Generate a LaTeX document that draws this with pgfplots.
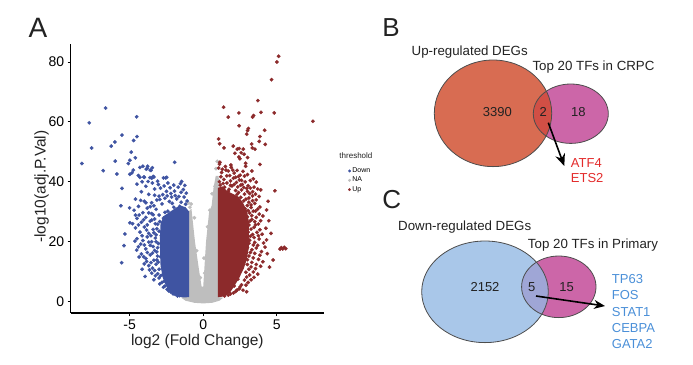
\documentclass[border=0pt]{standalone}
\usepackage{pgfplots}
\pgfplotsset{compat=1.18}
\usepackage{fontspec}
\setmainfont{Liberation Sans}
\usetikzlibrary{arrows.meta}
\definecolor{dblue}{HTML}{3F54A2}
\definecolor{dred}{HTML}{8C2A2B}
\definecolor{ngray}{HTML}{BEBEBE}
\definecolor{vorange}{HTML}{D86C52}
\definecolor{vmag}{HTML}{CC66A8}
\definecolor{vint1}{HTML}{D14F45}
\definecolor{vblue}{HTML}{A9C7E9}
\definecolor{vint2}{HTML}{9FA6D6}
\definecolor{vline}{HTML}{4D4D4D}
\definecolor{tred}{HTML}{E32B2B}
\definecolor{tblue}{HTML}{4A8FD8}
\definecolor{txt}{HTML}{222222}
\pgfplotsset{
  dots/.style={only marks, mark=*, mark size=1.75pt, mark options={solid, line width=0.3pt}},
  area/.style={no marks, draw=none},
}
\begin{document}
\begin{tikzpicture}
\useasboundingbox (0pt,0pt) rectangle (693pt,-364pt);
% ---------------- volcano plot ----------------
\begin{axis}[
  at={(70.7pt,-313pt)}, anchor=south west, scale only axis,
  width=253.3pt, height=269pt,
  xmin=-9, xmax=8.2, ymin=-3.8, ymax=86,
  axis x line*=bottom, axis y line*=left,
  axis line style={line width=1.4pt,-},
  xtick={-5,0,5}, xticklabels={-5,0,5},
  ytick={0,20,40,60,80}, yticklabels={0,20,40,60,80},
  tick align=outside, major tick length=3pt,
  tick style={line width=0.8pt,black},
  ticklabel style={font=\fontsize{14}{16}\selectfont, text=black},
  xlabel={log2 (Fold Change)}, ylabel={-log10(adj.P.Val)},
  label style={font=\fontsize{15.5}{17}\selectfont, text=txt},
  xlabel style={at={(axis description cs:0.5,-0.107)}, anchor=center},
  ylabel style={at={(axis description cs:-0.1145,0.47)}, anchor=center},
  clip=false,
  legend style={at={(axis description cs:1.095,0.546)}, anchor=north west,
    draw=none, fill=none, inner sep=0pt, font=\fontsize{7}{8}\selectfont,
    nodes={inner sep=1.5pt}, legend cell align=left},
  legend image post style={mark size=1.3pt},
]
\addlegendimage{dots, color=dblue}
\addlegendentry{Down}
\addlegendimage{dots, color=ngray}
\addlegendentry{NA}
\addlegendimage{dots, color=dred}
\addlegendentry{Up}
% gray (NA) dense area
\addplot[forget plot, area, fill=ngray] coordinates {
(-1.5,1.3) (-1.0,2) (-1.0,30) (-0.8,31) (-0.56,20) (-0.3,11) (-0.11,5) (0.0,5)
(0.19,20) (0.4,30) (0.57,32) (0.7,38) (0.85,42) (1.05,42) (1.05,1.5)
(1.35,1.3) (1.1,0.3) (0.6,-0.4) (0,-0.6) (-0.6,-0.4) (-1.2,0.3) (-1.5,1.3)};
\addplot[forget plot, dots, color=ngray] coordinates {
(1.02,40.6) (0.87,44.4) (0.95,46.8) (0.8,38.5) (0.6,36.0) (0.45,30.5) (0.3,25.0)
(-0.9,31.5) (-0.82,32.6) (-0.6,28.0) (-1.0,33.0) (-0.45,17.0) (-0.2,8.0) (0.1,9.5) (0.05,14.5)};
% blue dense area
\addplot[forget plot, area, fill=dblue] coordinates {
(-0.95,1.5) (-0.95,30) (-1.2,31.5) (-1.5,32) (-1.8,31.5) (-2.1,30.5) (-2.4,29.5) (-2.7,28.5)
(-2.9,26) (-2.95,20) (-2.9,12) (-2.75,8) (-2.5,5) (-2.2,3) (-1.8,2) (-1.4,1.4) (-0.95,1.5)};
\addplot[forget plot, dots, color=dblue] coordinates {
(-6.63,64.6) (-7.74,59.7) (-4.52,61.7) (-7.58,51.3) (-5.52,55.6) (-6.0,53.3) (-6.25,51.9)
(-4.5,55.1) (-4.73,53.8) (-4.89,49.9) (-8.24,46.1) (-5.98,46.9) (-5.09,46.1) (-4.98,47.2)
(-4.61,48.0) (-6.79,43.7) (-5.86,42.6) (-4.75,43.9) (-4.84,43.0) (-4.98,42.5) (-3.78,45.2)
(-3.46,44.7) (-3.87,44.2) (-3.55,43.8) (-1.94,46.5) (-2.48,41.5) (-2.55,41.3) (-4.30,41.5)
(-4.03,41.6) (-3.62,41.4) (-3.5,41.2) (-3.35,41.6) (-1.47,40.1) (-5.52,37.8) (-5.59,32.0)
(-5.0,31.3) (-4.98,26.3) (-5.32,22.6) (-5.38,18.7) (-5.54,13.0) (-4.64,20.2) (-4.52,17.2)
(-4.3,44.8) (-4.1,45.2) (-3.8,44.5) (-3.6,43.9) (-4.4,42.1) (-4.0,41.5) (-3.4,41.8)
(-3.1,40.2) (-2.7,41.3) (-2.4,39.6) (-2.0,38.9) (-1.7,38.2) (-4.5,39.2) (-3.9,38.5)
(-3.3,37.6) (-2.9,37.9) (-2.5,36.8) (-2.2,36.1) (-1.9,35.4) (-1.5,36.5) (-1.3,34.9)
(-4.2,36.7) (-3.7,35.8) (-3.0,35.2) (-2.6,34.5) (-1.1,33.6) (-4.6,34.2) (-4.0,33.5)
(-3.5,33.0) (-2.8,32.6) (-2.3,33.4) (-1.8,34.3)
(-4.7,30.5) (-4.4,31.8) (-4.1,29.7) (-3.8,31.2) (-3.5,29.4) (-3.2,30.8) (-3.0,28.9)
(-4.5,27.8) (-4.2,26.5) (-3.9,28.1) (-3.6,26.9) (-3.3,27.6) (-3.1,25.8) (-2.95,26.7)
(-4.6,24.6) (-4.3,23.2) (-4.0,24.9) (-3.7,22.8) (-3.4,24.1) (-3.2,22.3) (-3.0,23.5)
(-4.5,21.0) (-4.1,20.4) (-3.8,21.6) (-3.5,20.0) (-3.25,21.2) (-3.05,19.4) (-4.4,18.3)
(-3.9,17.6) (-3.6,18.8) (-3.3,17.1) (-3.1,18.0)
(-4.2,15.9) (-3.9,14.4) (-3.6,15.6) (-3.35,13.8) (-3.1,15.2) (-4.0,12.6) (-3.7,12.0)
(-3.45,11.2) (-3.2,12.5) (-3.0,10.8) (-3.5,9.5) (-3.25,8.6) (-3.0,7.9) (-2.8,6.4)
(-2.6,5.2) (-2.75,9.0) (-2.45,4.1) (-2.2,3.2) (-1.9,2.4)
(-2.0,31.5) (-1.6,31.8) (-1.3,30.9) (-2.4,30.2) (-2.7,27.9) (-2.85,22) (-2.9,15) (-1.2,32.5)
(-1.5,33.2) (-2.1,32.8) (-2.6,29.8) (-3.05,13.2) (-2.65,6.8)
(-3.3,35.5) (-3.15,33.9) (-2.95,34.1) (-2.75,35.7) (-2.45,35.3) (-2.15,34.9) (-1.95,36.9)
(-1.65,35.1) (-1.35,37.4) (-1.15,36.2) (-1.25,38.8) (-1.55,39.4) (-2.25,38.0) (-2.65,38.6)
(-3.05,39.1) (-3.45,39.6) (-3.75,40.1) (-4.15,40.0) (-3.35,32.0) (-3.6,31.7) (-3.9,33.0)
(-4.25,33.8) (-3.4,29.0) (-3.7,29.6) (-3.25,26.0) (-3.5,27.2) (-3.8,25.6) (-4.35,28.9)
(-4.05,27.3) (-3.15,24.3) (-3.35,23.0) (-3.55,22.0) (-3.85,23.9) (-4.15,22.0) (-4.4,25.6)
(-3.2,20.0) (-3.4,18.4) (-3.7,19.9) (-4.0,18.9) (-4.25,19.2) (-3.15,16.6) (-3.45,16.2)
(-3.8,16.4) (-4.05,15.0) (-3.15,13.9) (-3.55,13.0) (-3.85,13.4) (-3.3,10.4) (-3.65,10.6)
(-3.1,9.3) (-2.9,8.6) (-3.35,7.3) (-2.95,5.9) (-2.7,4.8) (-2.35,3.6) (-2.05,2.6) (-1.75,1.9)
(-1.6,2.0) (-4.6,28.9) (-4.8,26.0) (-4.35,14.9) (-4.15,10.8) (-3.95,8.4)};
% red dense area
\addplot[forget plot, area, fill=dred] coordinates {
(1.0,1.5) (1.0,38) (1.3,38.5) (1.6,37) (2.0,36) (2.4,35) (2.7,33) (3.0,30) (3.1,25)
(3.1,18) (2.95,14) (2.75,11) (2.45,8) (2.15,5.5) (1.8,2.9) (1.4,1.7) (1.0,1.5)};
\addplot[forget plot, dots, color=dred] coordinates {
(5.12,81.9) (5.0,80.0) (4.64,74.1) (3.71,67.1) (1.38,64.9) (2.42,63.0) (1.70,61.6)
(3.92,63.2) (4.82,63.0) (3.35,61.6) (3.42,62.1) (7.45,60.2) (2.44,58.7) (3.06,57.8)
(3.01,57.1) (2.95,55.9) (4.17,57.2) (3.85,55.1) (3.80,53.5) (1.04,54.3) (1.11,52.7)
(1.41,51.3) (4.21,52.5) (2.04,51.9) (2.31,50.9) (2.44,51.1) (2.72,50.9) (2.58,49.7)
(2.15,49.5) (3.29,52.6) (3.33,51.3) (3.51,50.9) (2.42,48.3) (2.49,47.7) (2.78,49.2)
(3.01,48.1) (1.13,46.5) (1.88,45.6) (2.88,46.2) (2.88,45.2) (3.85,45.8)
(4.87,37.0) (4.30,30.6) (4.30,20.6) (5.21,17.5) (5.3,18.0) (5.4,17.6) (5.5,18.1) (5.6,17.7)
(4.75,13.9) (2.95,3.3)
(1.1,45.9) (1.3,44.2) (1.5,45.1) (1.7,43.6) (1.9,44.8) (2.1,42.9) (2.3,43.8) (2.5,42.2)
(2.7,43.5) (1.2,41.7) (1.4,40.8) (1.6,42.0) (1.85,40.3) (2.05,41.2) (2.25,39.8) (2.45,40.6)
(2.65,39.1) (2.85,40.0) (3.05,38.7) (1.15,38.9) (1.45,38.2) (1.75,37.5) (1.95,38.6)
(2.2,37.1) (2.4,36.4) (2.6,37.3) (2.8,35.9) (3.0,36.8) (3.2,37.9) (3.45,38.2) (3.7,37.6)
(3.9,37.3) (1.3,36.0) (2.0,35.2) (2.75,33.6) (3.1,34.6) (3.35,35.3)
(3.0,32.1) (3.25,31.4) (3.5,32.8) (3.15,29.6) (3.4,30.2) (3.7,30.9) (3.0,28.3) (3.3,27.4)
(3.6,28.1) (3.9,27.0) (3.1,25.6) (3.45,24.8) (3.75,25.9) (3.05,23.2) (3.35,22.4) (3.65,23.1)
(4.0,22.5) (3.15,20.5) (3.5,19.8) (3.8,20.9) (4.1,19.6) (3.0,18.1) (3.3,17.3) (3.6,17.9)
(3.95,16.7) (3.1,15.2) (3.4,14.6) (3.75,14.1) (4.05,13.3) (3.0,12.4) (3.25,11.6) (3.55,11.0)
(2.9,9.8) (3.15,8.9) (3.45,8.1) (2.8,7.2) (3.05,6.4) (2.6,5.6) (2.45,4.3) (2.2,3.4) (2.7,3.8)
(1.85,2.6) (2.95,27.5) (2.85,31.0) (2.5,33.2) (2.2,34.4) (1.6,35.5) (2.75,14.5) (2.6,11.0)
(2.35,7.5) (2.1,5.2)
(1.05,44.6) (1.25,43.1) (1.55,43.9) (1.8,42.1) (2.0,43.9) (2.2,41.5) (2.4,41.8) (2.6,40.5)
(2.8,41.9) (3.0,42.4) (3.2,40.4) (3.4,41.0) (3.6,39.9) (3.3,43.6) (1.1,40.0) (1.35,39.4)
(1.6,39.6) (1.85,38.8) (2.1,39.1) (2.35,38.3) (2.55,38.9) (2.75,38.1) (2.95,37.8) (3.15,36.1)
(3.35,36.7) (3.55,35.9) (3.8,35.1) (1.7,36.8) (2.3,35.8) (2.55,34.8) (2.9,34.2)
(3.1,33.2) (3.35,33.7) (3.6,34.0) (3.25,32.3) (3.55,30.2) (3.85,31.6) (3.05,30.4) (3.3,28.7)
(3.5,26.7) (3.8,29.2) (4.05,28.6) (3.2,27.0) (3.05,26.5) (3.25,24.2) (3.55,25.6) (3.85,24.0)
(3.2,21.8) (3.45,21.4) (3.75,22.0) (3.1,19.5) (3.4,18.9) (3.7,18.8) (4.2,18.2) (3.2,16.4)
(3.5,16.1) (3.85,15.5) (3.0,14.0) (3.3,13.1) (3.6,12.4) (3.9,11.8) (3.1,10.8) (3.4,9.9)
(3.7,9.2) (2.95,8.2) (3.25,7.3) (2.9,5.5) (2.5,4.9) (2.3,3.9) (2.05,2.9) (1.7,2.2) (1.45,1.9)
(4.45,27.0) (4.6,22.8) (4.35,16.0) (4.5,11.5) (4.25,24.5) (4.4,33.5)};
\node[anchor=west, font=\fontsize{8}{9}\selectfont, text=txt, inner sep=0pt]
  at (axis description cs:1.0604,0.5848) {threshold};
\end{axis}
% ---------------- Venn diagrams (overlay axis in pixel units) ----------------
\begin{axis}[at={(0pt,0pt)}, anchor=north west, scale only axis,
  width=693pt, height=364pt, xmin=0, xmax=693, ymin=0, ymax=364,
  y dir=reverse, hide axis, clip=false]
\node[font=\fontsize{28}{30}\selectfont, text=txt] at (axis cs:38,28) {A};
\node[font=\fontsize{26}{28}\selectfont, text=txt] at (axis cs:391,27.5) {B};
\node[font=\fontsize{26}{28}\selectfont, text=txt] at (axis cs:391.7,200) {C};
% B
\fill[vmag] (axis cs:570.8,113.7) ellipse [x radius=37.5pt, y radius=29.7pt];
\fill[vorange] (axis cs:493,113.3) ellipse [x radius=58.7pt, y radius=53.3pt];
\begin{scope}
\clip (axis cs:493,113.3) ellipse [x radius=58.7pt, y radius=53.3pt];
\fill[vint1] (axis cs:570.8,113.7) ellipse [x radius=37.5pt, y radius=29.7pt];
\end{scope}
\draw[vline, line width=0.8pt] (axis cs:493,113.3) ellipse [x radius=58.7pt, y radius=53.3pt];
\draw[vline, line width=0.8pt] (axis cs:570.8,113.7) ellipse [x radius=37.5pt, y radius=29.7pt];
\node[font=\fontsize{13.3}{15}\selectfont, text=txt] at (axis cs:469.7,51.7) {Up-regulated DEGs};
\node[font=\fontsize{13.3}{15}\selectfont, text=txt] at (axis cs:593.5,66.7) {Top 20 TFs in CRPC};
\node[font=\fontsize{13}{15}\selectfont, text=txt] at (axis cs:497.3,111.7) {3390};
\node[font=\fontsize{13}{15}\selectfont, text=txt] at (axis cs:543.3,111.7) {2};
\node[font=\fontsize{13}{15}\selectfont, text=txt] at (axis cs:578.3,111.7) {18};
\draw[line width=1.6pt, -{Stealth[length=12pt,width=10pt]}] (axis cs:548.3,122.7) -- (axis cs:564.3,166);
\node[anchor=west, inner sep=0pt, font=\fontsize{13}{15}\selectfont, text=tred] at (axis cs:570.7,163.3) {ATF4};
\node[anchor=west, inner sep=0pt, font=\fontsize{13}{15}\selectfont, text=tred] at (axis cs:570.7,178.3) {ETS2};
% C
\fill[vmag] (axis cs:558.8,286.8) ellipse [x radius=37.2pt, y radius=30.8pt];
\fill[vblue] (axis cs:485,291.8) ellipse [x radius=63.3pt, y radius=50.8pt];
\begin{scope}
\clip (axis cs:485,291.8) ellipse [x radius=63.3pt, y radius=50.8pt];
\fill[vint2] (axis cs:558.8,286.8) ellipse [x radius=37.2pt, y radius=30.8pt];
\end{scope}
\draw[vline, line width=0.8pt] (axis cs:485,291.8) ellipse [x radius=63.3pt, y radius=50.8pt];
\draw[vline, line width=0.8pt] (axis cs:558.8,286.8) ellipse [x radius=37.2pt, y radius=30.8pt];
\node[font=\fontsize{13.3}{15}\selectfont, text=txt] at (axis cs:464.7,227.3) {Down-regulated DEGs};
\node[font=\fontsize{13.3}{15}\selectfont, text=txt] at (axis cs:593,245) {Top 20 TFs in Primary};
\node[font=\fontsize{13}{15}\selectfont, text=txt] at (axis cs:485,287.3) {2152};
\node[font=\fontsize{13}{15}\selectfont, text=txt] at (axis cs:531.7,287.3) {5};
\node[font=\fontsize{13}{15}\selectfont, text=txt] at (axis cs:566.7,287.3) {15};
\draw[line width=1.6pt, -{Stealth[length=11pt,width=9pt]}] (axis cs:536,296) -- (axis cs:605,306);
\node[anchor=west, inner sep=0pt, font=\fontsize{13}{15}\selectfont, text=tblue] at (axis cs:611.7,279.3) {TP63};
\node[anchor=west, inner sep=0pt, font=\fontsize{13}{15}\selectfont, text=tblue] at (axis cs:611.7,295.5) {FOS};
\node[anchor=west, inner sep=0pt, font=\fontsize{13}{15}\selectfont, text=tblue] at (axis cs:611.7,311.7) {STAT1};
\node[anchor=west, inner sep=0pt, font=\fontsize{13}{15}\selectfont, text=tblue] at (axis cs:611.7,327.7) {CEBPA};
\node[anchor=west, inner sep=0pt, font=\fontsize{13}{15}\selectfont, text=tblue] at (axis cs:611.7,344) {GATA2};
\end{axis}
\end{tikzpicture}
\end{document}
